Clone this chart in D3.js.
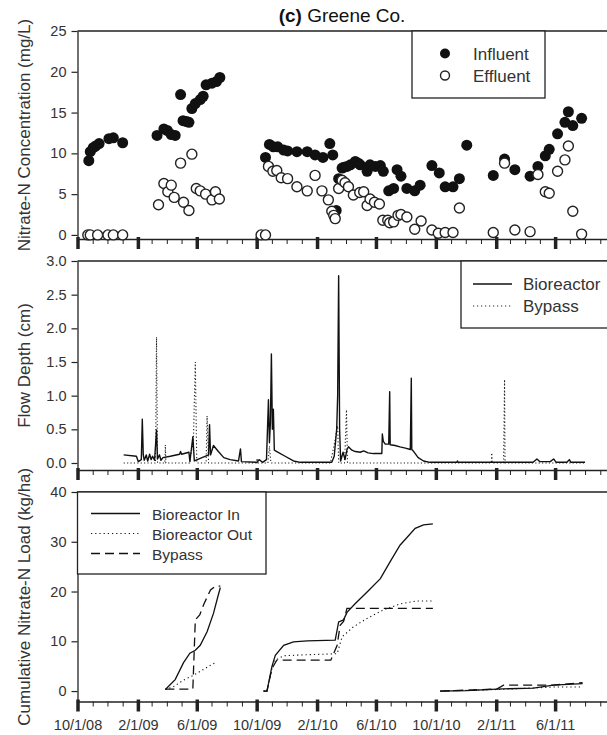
<!DOCTYPE html>
<html>
<head>
<meta charset="utf-8">
<script src="https://cdn.jsdelivr.net/npm/d3@7"></script>
<style>
  body { margin: 0; background: #fff; }
  svg { font-family: "Liberation Sans", Arial, sans-serif; }
</style>
</head>
<body>
<div id="chart-area"></div>
<script>
// Greene Co. bioreactor: concentration, flow depth, cumulative load

var majorTicks = ["2008-10-01","2009-02-01","2009-06-01","2009-10-01","2010-02-01",
                  "2010-06-01","2010-10-01","2011-02-01","2011-06-01"];
var tickLabels = ["10/1/08","2/1/09","6/1/09","10/1/09","2/1/10","6/1/10","10/1/10","2/1/11","6/1/11"];

var concTicks = [0, 5, 10, 15, 20, 25];
var depthTicks = [0, 0.5, 1, 1.5, 2, 2.5, 3];
var loadTicks = [0, 10, 20, 30, 40];

// top panel, mg/L
var influent = [
  ["2008-10-24",9.1],["2008-10-27",10.2],["2008-11-02",10.7],["2008-11-07",10.9],["2008-11-14",11.2],
  ["2008-12-04",11.8],["2008-12-13",11.9],["2009-01-01",11.3],
  ["2009-03-12",12.2],["2009-03-26",13.0],["2009-04-02",12.8],["2009-04-10",12.3],["2009-04-18",12.2],
  ["2009-04-29",17.2],["2009-05-04",14.0],["2009-05-11",13.9],["2009-05-16",13.8],["2009-05-22",15.5],
  ["2009-05-29",16.1],["2009-06-08",16.6],["2009-06-14",17.0],["2009-06-20",18.4],["2009-07-02",18.6],
  ["2009-07-11",18.8],["2009-07-18",19.3],
  ["2009-10-19",9.5],["2009-10-27",11.1],["2009-11-04",10.8],["2009-11-13",10.8],["2009-11-25",10.4],
  ["2009-12-03",10.3],["2009-12-22",10.2],["2010-01-12",10.2],["2010-01-28",9.8],["2010-02-13",9.5],
  ["2010-02-27",11.2],["2010-03-05",9.8],["2010-03-12",3.0],["2010-03-17",6.9],["2010-03-24",8.2],
  ["2010-03-28",8.3],["2010-04-03",8.4],["2010-04-10",8.6],["2010-04-20",9.0],["2010-04-26",8.8],
  ["2010-04-30",8.6],["2010-05-14",7.8],["2010-05-20",8.6],["2010-05-31",8.4],["2010-06-10",8.5],
  ["2010-06-16",7.8],["2010-06-27",5.4],["2010-07-07",5.7],["2010-07-14",8.0],["2010-07-22",7.2],
  ["2010-08-03",5.7],["2010-08-19",5.4],["2010-08-30",6.1],["2010-09-23",8.5],["2010-10-08",7.6],
  ["2010-10-20",5.9],["2010-11-05",5.9],["2010-11-18",6.9],["2010-12-03",11.0],
  ["2011-01-26",7.3],["2011-02-18",9.3],["2011-03-11",8.0],["2011-04-11",7.2],["2011-04-27",8.4],
  ["2011-05-12",9.7],["2011-05-20",10.5],["2011-06-06",12.4],["2011-06-21",13.8],["2011-06-28",15.1],
  ["2011-07-07",13.4],["2011-07-25",14.3]
];
var effluent = [
  ["2008-10-22",0],["2008-10-27",0],["2008-11-11",0],["2008-12-02",0],["2008-12-13",0],["2009-01-01",0],
  ["2009-03-15",3.7],["2009-03-26",6.3],["2009-04-03",5.3],["2009-04-10",6.1],["2009-04-16",4.6],
  ["2009-04-29",8.8],["2009-05-05",4.0],["2009-05-16",3.0],["2009-05-22",9.9],["2009-05-31",5.7],
  ["2009-06-08",5.4],["2009-06-19",5.0],["2009-07-02",4.3],["2009-07-09",5.3],["2009-07-17",4.4],
  ["2009-10-10",0],["2009-10-19",0],["2009-10-25",8.4],["2009-11-03",7.8],["2009-11-11",7.9],
  ["2009-11-20",7.0],["2009-12-03",6.9],["2009-12-22",5.9],["2010-01-12",5.4],["2010-01-28",7.3],
  ["2010-02-11",5.4],["2010-02-24",4.3],["2010-03-03",2.9],["2010-03-07",2.4],["2010-03-10",2.0],
  ["2010-03-17",5.7],["2010-03-24",6.7],["2010-03-30",6.4],["2010-04-06",5.9],["2010-04-16",4.9],
  ["2010-04-29",5.2],["2010-05-07",5.3],["2010-05-14",3.6],["2010-05-20",4.4],["2010-05-29",4.0],
  ["2010-06-08",3.8],["2010-06-15",1.8],["2010-06-25",1.8],["2010-06-29",1.5],["2010-07-07",1.6],
  ["2010-07-16",2.4],["2010-07-22",2.5],["2010-08-03",2.2],["2010-08-19",0.7],["2010-09-01",1.7],
  ["2010-09-23",0.6],["2010-10-06",0.2],["2010-10-20",0.3],["2010-11-05",0.3],["2010-11-18",3.3],
  ["2011-01-26",0.3],["2011-02-18",8.8],["2011-03-11",0.6],["2011-04-11",0.4],["2011-04-27",7.4],
  ["2011-05-12",5.3],["2011-05-20",5.1],["2011-06-06",7.8],["2011-06-21",9.2],["2011-06-28",10.9],
  ["2011-07-07",2.9],["2011-07-25",0.1]
];

// middle panel, cm
var bioreactorDepth = [
  ["2009-01-03",0.12],["2009-01-29",0.10],["2009-02-02",0.02],["2009-02-08",0.05],["2009-02-10",0.65],
  ["2009-02-12",0.12],["2009-02-14",0.04],["2009-02-18",0.12],["2009-02-21",0.03],["2009-02-25",0.13],
  ["2009-02-28",0.05],["2009-03-03",0.10],["2009-03-07",0.04],["2009-03-11",0.49],["2009-03-13",0.06],
  ["2009-03-17",0.12],["2009-03-20",0.04],["2009-03-24",0.08],["2009-04-08",0.10],["2009-04-27",0.13],
  ["2009-04-29",0.17],["2009-05-01",0.13],["2009-05-16",0.16],["2009-05-18",0.02],["2009-05-24",0.39],
  ["2009-05-27",0.03],["2009-06-08",0.07],["2009-06-25",0.12],["2009-06-27",0.57],["2009-06-29",0.12],
  ["2009-07-05",0.26],["2009-07-15",0.17],["2009-07-26",0.08],["2009-08-08",0.05],["2009-08-25",0.03],
  ["2009-08-29",0.21],["2009-08-31",0.02],["2009-10-02",0.01],["2009-10-06",0.05],["2009-10-13",0.01],
  ["2009-10-21",0.05],["2009-10-25",0.94],["2009-10-27",0.30],["2009-10-29",0.60],["2009-10-31",1.62],
  ["2009-11-02",0.50],["2009-11-04",0.80],["2009-11-06",0.19],["2009-11-11",0.17],["2009-11-28",0.10],
  ["2009-12-15",0.03],["2009-12-29",0.01],["2010-03-03",0.01],["2010-03-08",0.10],["2010-03-13",0.50],
  ["2010-03-15",1.00],["2010-03-17",2.78],["2010-03-19",0.50],["2010-03-21",0.03],["2010-03-26",0.16],
  ["2010-03-30",0.05],["2010-04-03",0.20],["2010-04-06",0.24],["2010-04-13",0.19],["2010-04-20",0.17],
  ["2010-04-30",0.16],["2010-05-07",0.18],["2010-05-16",0.15],["2010-05-27",0.14],["2010-06-13",0.14],
  ["2010-06-14",0.43],["2010-06-16",0.32],["2010-06-20",0.28],["2010-06-27",0.28],["2010-06-29",1.06],
  ["2010-06-30",0.27],["2010-07-10",0.26],["2010-07-20",0.24],["2010-07-31",0.22],["2010-08-10",0.20],
  ["2010-08-12",1.26],["2010-08-13",0.20],["2010-08-17",0.17],["2010-08-26",0.08],["2010-09-06",0.03],
  ["2010-09-19",0.01],["2010-11-13",0.01],["2010-11-14",0.03],["2010-11-15",0.01],["2011-04-17",0.01],
  ["2011-04-25",0.06],["2011-05-01",0.02],["2011-05-22",0.02],["2011-05-29",0.06],["2011-06-03",0.01],
  ["2011-06-25",0.01],["2011-06-30",0.05],["2011-07-03",0.01],["2011-08-01",0.01]
];
var bypassDepth = [
  ["2009-01-03",0],["2009-03-09",0],["2009-03-11",1.87],["2009-03-13",0],["2009-03-28",0],
  ["2009-03-29",0.27],["2009-03-30",0],["2009-05-17",0],["2009-05-19",0.10],["2009-05-25",0.30],
  ["2009-05-29",1.50],["2009-06-01",0],["2009-06-20",0],["2009-06-22",0.70],["2009-06-25",0],
  ["2009-09-30",0],["2009-10-02",0.07],["2009-10-04",0],["2009-10-24",0],["2009-10-27",0.25],
  ["2009-10-30",0],["2010-02-28",0],["2010-03-06",0.20],["2010-03-10",0.35],["2010-03-13",0.50],
  ["2010-03-15",0.55],["2010-03-17",0],["2010-03-29",0],["2010-04-02",0.79],["2010-04-04",0],
  ["2011-01-22",0],["2011-01-23",0.15],["2011-01-24",0],["2011-02-16",0],["2011-02-18",1.24],
  ["2011-02-19",0],["2011-08-01",0]
];

// bottom panel, kg/ha (one segment per season)
var loadIn = [
  [["2009-03-29",0.3],["2009-04-18",2.3],["2009-05-05",5.7],["2009-05-18",7.6],["2009-05-29",8.2],
   ["2009-06-08",9.2],["2009-06-22",11.9],["2009-07-05",15.6],["2009-07-14",19.0],["2009-07-19",20.8]],
  [["2009-10-15",0],["2009-10-22",0],["2009-11-01",4.9],["2009-11-08",7.2],["2009-11-25",9.2],
   ["2009-12-15",9.9],["2010-01-12",10.1],["2010-03-10",10.25],["2010-03-17",13.9],["2010-03-27",14.3],
   ["2010-04-03",15.8],["2010-04-20",17.6],["2010-05-14",19.9],["2010-06-10",22.6],["2010-06-30",26.0],
   ["2010-07-20",29.3],["2010-08-20",32.7],["2010-09-06",33.4],["2010-09-25",33.6]],
  [["2010-10-10",0],["2010-12-03",0.1],["2011-02-02",0.4],["2011-04-18",0.6],["2011-05-28",1.2],
   ["2011-07-27",1.5]]
];
var loadOut = [
  [["2009-03-29",0.3],["2009-04-15",0.9],["2009-05-05",2.2],["2009-05-26",3.2],["2009-06-19",4.6],
   ["2009-07-12",5.9]],
  [["2009-10-15",0],["2009-10-22",0],["2009-11-01",4.5],["2009-11-05",6.0],["2009-11-25",7.1],
   ["2010-01-12",7.3],["2010-03-14",7.5],["2010-03-24",10.9],["2010-04-16",12.9],["2010-05-14",14.6],
   ["2010-06-16",16.3],["2010-07-20",17.5],["2010-08-23",18.1],["2010-09-25",18.1]],
  [["2010-10-10",0],["2011-02-02",0.3],["2011-05-28",0.8],["2011-07-27",0.8]]
];
var loadBypass = [
  [["2009-03-29",0.4],["2009-05-24",0.4],["2009-05-29",14.3],["2009-06-07",15.3],["2009-06-16",17.6],
   ["2009-06-29",20.3],["2009-07-09",21.1],["2009-07-19",21.1]],
  [["2009-10-15",0],["2009-10-22",0],["2009-11-01",4.5],["2009-11-11",6.2],["2010-03-01",6.2],
   ["2010-03-14",9.2],["2010-03-20",13.2],["2010-03-27",14.0],["2010-04-03",16.6],["2010-09-25",16.6]],
  [["2010-10-10",0],["2011-02-02",0.4],["2011-02-16",1.2],["2011-05-28",1.2],["2011-07-27",1.7]]
];

var width = 607, height = 735;
var ink = "#222", textColor = "#333";
var left = 77.5, right = 615;

var parse = d3.timeParse("%Y-%m-%d");

var svg = d3.select("#chart-area")
  .append("svg")
    .attr("width", width)
    .attr("height", height);

var x = d3.scaleTime()
  .domain([parse("2008-10-01"), parse("2011-10-01")])
  .range([left, right]);

var panels = [
  { top: 31, axis: 239, domain: [-0.5, 25], ticks: concTicks, fmt: d3.format("d"),
    title: "Nitrate-N Concentration (mg/L)" },
  { top: 261, axis: 470, domain: [-0.104, 3], ticks: depthTicks, fmt: d3.format(".1f"),
    title: "Flow Depth (cm)" },
  { top: 492, axis: 701.5, domain: [-2.1, 40], ticks: loadTicks, fmt: d3.format("d"),
    title: "Cumulative Nitrate-N Load (kg/ha)" }
];

panels.forEach(function(p, i) {
  p.y = d3.scaleLinear().domain(p.domain).range([p.axis, p.top]);

  // frame: top edge and right edge (the right one sits outside the picture)
  svg.append("path")
    .attr("d", "M" + left + "," + p.top + "H" + right + "V" + p.axis)
    .attr("fill", "none")
    .attr("stroke", ink)
    .attr("stroke-width", 1.3);

  // y axis
  var yAxis = svg.append("g")
    .attr("transform", "translate(" + left + ",0)")
    .call(d3.axisLeft(p.y).tickValues(p.ticks).tickFormat(p.fmt)
      .tickSize(6).tickPadding(5).tickSizeOuter(0));
  yAxis.select(".domain").attr("stroke", ink).attr("stroke-width", 1.3);
  yAxis.selectAll(".tick line").attr("stroke", ink).attr("stroke-width", 1.2);
  yAxis.selectAll("text")
    .attr("font-size", "14.5px")
    .attr("font-family", "Liberation Sans, Arial, sans-serif")
    .attr("fill", textColor);

  // x axis, monthly minor ticks
  var minor = svg.append("g")
    .attr("transform", "translate(0," + p.axis + ")")
    .call(d3.axisBottom(x).ticks(d3.timeMonth.every(1)).tickFormat("")
      .tickSize(5).tickSizeOuter(0));
  minor.select(".domain").attr("stroke", ink).attr("stroke-width", 1.3);
  minor.selectAll(".tick line").attr("stroke", ink).attr("stroke-width", 1);

  // x axis, heavy 4-month ticks
  var major = svg.append("g")
    .attr("transform", "translate(0," + p.axis + ")")
    .call(d3.axisBottom(x).tickValues(majorTicks.map(parse))
      .tickFormat(function(d, k) { return i === 2 ? tickLabels[k] : ""; })
      .tickSize(10).tickPadding(8).tickSizeOuter(0));
  major.select(".domain").remove();
  major.selectAll(".tick line")
    .attr("y1", -2)
    .attr("stroke", ink)
    .attr("stroke-width", 3.5);
  major.selectAll("text")
    .attr("font-size", "14.5px")
    .attr("font-family", "Liberation Sans, Arial, sans-serif")
    .attr("fill", textColor);

  // axis title
  svg.append("text")
    .attr("transform", "translate(30," + ((p.top + p.axis) / 2) + ") rotate(-90)")
    .attr("text-anchor", "middle")
    .attr("font-size", "17px")
    .attr("fill", textColor)
    .text(p.title);
});

// title
var title = svg.append("text")
  .attr("x", 342)
  .attr("y", 22)
  .attr("text-anchor", "middle")
  .attr("font-size", "19px")
  .attr("fill", "#111");
title.append("tspan").attr("font-weight", "bold").text("(c)");
title.append("tspan").text(" Greene Co.");

// ---- top panel: concentrations
var yc = panels[0].y;

svg.append("g").selectAll("circle")
  .data(influent)
  .enter().append("circle")
    .attr("cx", function(d) { return x(parse(d[0])); })
    .attr("cy", function(d) { return yc(d[1]); })
    .attr("r", 5.5)
    .attr("fill", "#111");

svg.append("g").selectAll("circle")
  .data(effluent)
  .enter().append("circle")
    .attr("cx", function(d) { return x(parse(d[0])); })
    .attr("cy", function(d) { return yc(d[1]); })
    .attr("r", 5)
    .attr("fill", "#fff")
    .attr("stroke", "#222")
    .attr("stroke-width", 1.4);

var leg1 = svg.append("g");
leg1.append("rect")
  .attr("x", 412).attr("y", 31).attr("width", 133).attr("height", 67)
  .attr("fill", "#fff").attr("stroke", ink).attr("stroke-width", 1.3);
leg1.append("circle").attr("cx", 445).attr("cy", 53.5).attr("r", 5).attr("fill", "#111");
leg1.append("circle").attr("cx", 445).attr("cy", 75.5).attr("r", 4.5)
  .attr("fill", "#fff").attr("stroke", "#222").attr("stroke-width", 1.4);
leg1.append("text").attr("x", 473).attr("y", 60).attr("font-size", "17px")
  .attr("fill", textColor).text("Influent");
leg1.append("text").attr("x", 473).attr("y", 82).attr("font-size", "17px")
  .attr("fill", textColor).text("Effluent");

// ---- middle panel: flow depth
var yd = panels[1].y;
var depthLine = d3.line()
  .x(function(d) { return x(parse(d[0])); })
  .y(function(d) { return yd(d[1]); });

svg.append("path")
  .attr("d", depthLine(bypassDepth))
  .attr("fill", "none")
  .attr("stroke", "#222")
  .attr("stroke-width", 1.1)
  .attr("stroke-dasharray", "1.2,2.2");

svg.append("path")
  .attr("d", depthLine(bioreactorDepth))
  .attr("fill", "none")
  .attr("stroke", "#111")
  .attr("stroke-width", 1.4)
  .attr("stroke-linejoin", "round");

var leg2 = svg.append("g");
leg2.append("rect")
  .attr("x", 461).attr("y", 261).attr("width", 160).attr("height", 67)
  .attr("fill", "#fff").attr("stroke", ink).attr("stroke-width", 1.3);
leg2.append("line").attr("x1", 473).attr("x2", 512).attr("y1", 284).attr("y2", 284)
  .attr("stroke", "#111").attr("stroke-width", 1.4);
leg2.append("line").attr("x1", 473).attr("x2", 512).attr("y1", 306).attr("y2", 306)
  .attr("stroke", "#222").attr("stroke-width", 1.1).attr("stroke-dasharray", "1.2,2.8");
leg2.append("text").attr("x", 523).attr("y", 290).attr("font-size", "17px")
  .attr("fill", textColor).text("Bioreactor");
leg2.append("text").attr("x", 523).attr("y", 312).attr("font-size", "17px")
  .attr("fill", textColor).text("Bypass");

// ---- bottom panel: cumulative load
var yl = panels[2].y;
var loadLine = d3.line()
  .x(function(d) { return x(parse(d[0])); })
  .y(function(d) { return yl(d[1]); });

var loadSeries = [
  { segs: loadOut, dash: "1.2,3", w: 1.1 },
  { segs: loadBypass, dash: "9,5", w: 1.3 },
  { segs: loadIn, dash: null, w: 1.3 }
];
loadSeries.forEach(function(s) {
  svg.append("g").selectAll("path")
    .data(s.segs)
    .enter().append("path")
      .attr("d", loadLine)
      .attr("fill", "none")
      .attr("stroke", "#111")
      .attr("stroke-width", s.w)
      .attr("stroke-dasharray", s.dash);
});

var leg3 = svg.append("g");
leg3.append("rect")
  .attr("x", left).attr("y", 492).attr("width", 266 - left).attr("height", 82)
  .attr("fill", "#fff").attr("stroke", ink).attr("stroke-width", 1.3);
var leg3Items = [
  { label: "Bioreactor In", dash: null, w: 1.3 },
  { label: "Bioreactor Out", dash: "1.2,3", w: 1.1 },
  { label: "Bypass", dash: "9,5", w: 1.3 }
];
leg3Items.forEach(function(it, k) {
  var yy = 513.5 + k * 20;
  leg3.append("line")
    .attr("x1", 91).attr("x2", 140).attr("y1", yy).attr("y2", yy)
    .attr("stroke", "#111").attr("stroke-width", it.w)
    .attr("stroke-dasharray", it.dash);
  leg3.append("text")
    .attr("x", 152).attr("y", yy + 6)
    .attr("font-size", "15.5px")
    .attr("fill", textColor)
    .text(it.label);
});
</script>
</body>
</html>
